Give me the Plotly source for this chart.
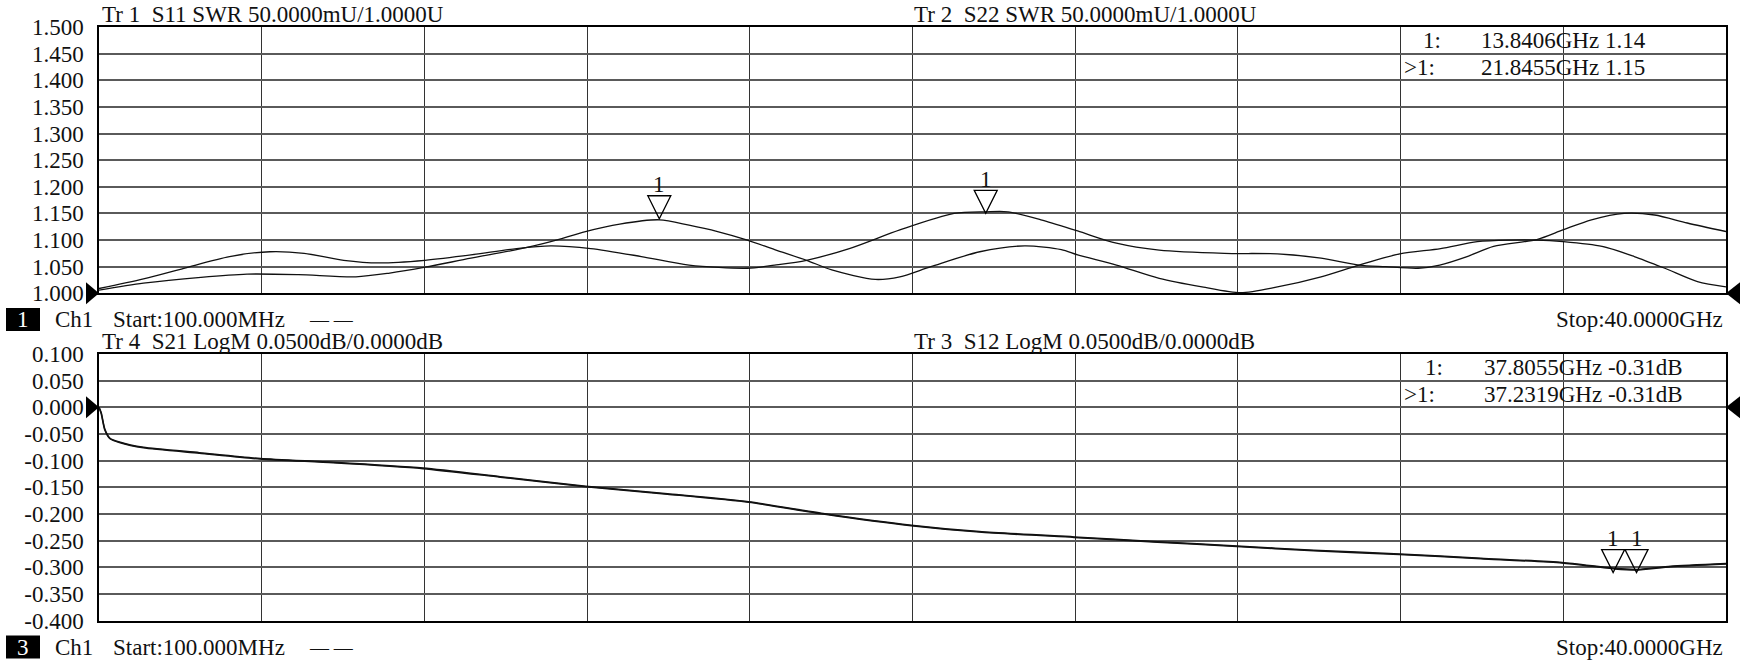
import plotly.graph_objects as go

# ---------------- data ----------------
freq_s11 = [0.1, 1.19, 2.6, 3.73, 4.99, 6.4, 7.23, 8.1, 9.22, 10.34, 11.18, 12.03, 12.87, 13.84,
            14.57, 15.27, 16.0, 16.67, 17.45, 18.07, 19.14, 19.74, 20.5, 21.7, 22.8, 23.7, 24.1,
            25.05, 26.1, 27.15, 28.1, 29.0, 30.07, 31.0, 32.0, 33.0, 33.9, 34.7, 35.36, 36.0,
            36.96, 37.75, 38.5, 39.3, 40.0]
swr_s11 = [1.006, 1.019, 1.030, 1.036, 1.035, 1.031, 1.038, 1.049, 1.066, 1.082, 1.097, 1.116, 1.130, 1.138,
           1.128, 1.116, 1.100, 1.082, 1.062, 1.044, 1.026, 1.031, 1.050, 1.078, 1.089, 1.082, 1.072,
           1.053, 1.028, 1.012, 1.001, 1.012, 1.031, 1.053, 1.074, 1.084, 1.097, 1.100, 1.100, 1.097,
           1.088, 1.069, 1.047, 1.022, 1.012]

freq_s22 = [0.1, 1.19, 2.18, 3.3, 4.29, 5.13, 6.1, 6.97, 8.09, 9.22, 10.34, 11.18, 12.16, 13.4, 14.57,
            16.0, 16.67, 17.45, 18.5, 19.74, 21.07, 21.85, 22.39, 23.2, 24.1, 25.05, 26.1, 27.7, 29.0,
            30.07, 31.0, 31.65, 32.45, 32.98, 33.65, 34.3, 35.36, 36.0, 36.7, 37.5, 38.25, 39.05, 40.0]
swr_s22 = [1.009, 1.027, 1.047, 1.069, 1.078, 1.075, 1.062, 1.057, 1.062, 1.072, 1.084, 1.089, 1.084, 1.069, 1.053,
           1.047, 1.053, 1.062, 1.084, 1.119, 1.150, 1.153, 1.153, 1.138, 1.117, 1.094, 1.081, 1.075, 1.074,
           1.066, 1.053, 1.050, 1.047, 1.053, 1.069, 1.088, 1.101, 1.119, 1.138, 1.150, 1.147, 1.132, 1.116]

freq_logm = [0.1, 0.155, 0.24, 0.37, 0.6, 1.19, 2.56, 4.06, 5.84, 8.05, 9.94, 12.04, 14.04, 16.03,
             17.86, 20.02, 21.69, 24.01, 26.06, 28.0, 29.89, 31.99, 33.99, 35.98, 37.27, 37.8, 38.64, 40.0]
logm_s21 = [0.0, -0.010, -0.040, -0.058, -0.065, -0.075, -0.085, -0.096, -0.103, -0.114, -0.130, -0.148,
            -0.162, -0.177, -0.199, -0.221, -0.233, -0.243, -0.252, -0.260, -0.268, -0.275, -0.283,
            -0.291, -0.302, -0.304, -0.298, -0.293]
logm_s12 = [0.0, -0.012, -0.042, -0.059, -0.066, -0.076, -0.086, -0.097, -0.104, -0.115, -0.131, -0.149,
            -0.163, -0.178, -0.200, -0.222, -0.234, -0.244, -0.253, -0.261, -0.269, -0.276, -0.284,
            -0.292, -0.303, -0.305, -0.299, -0.294]

swr_ticks = [1.000, 1.050, 1.100, 1.150, 1.200, 1.250, 1.300, 1.350, 1.400, 1.450, 1.500]
swr_tick_text = ["1.000", "1.050", "1.100", "1.150", "1.200", "1.250", "1.300", "1.350", "1.400", "1.450", "1.500"]
logm_ticks = [-0.400, -0.350, -0.300, -0.250, -0.200, -0.150, -0.100, -0.050, 0.000, 0.050, 0.100]
logm_tick_text = ["-0.400", "-0.350", "-0.300", "-0.250", "-0.200", "-0.150", "-0.100", "-0.050", "0.000", "0.050", "0.100"]

start_ghz, stop_ghz = 0.1, 40.0
swr_range = [1.0, 1.5]
logm_range = [-0.4, 0.1]
swr_ref, logm_ref = 1.0, 0.0

# markers: (freq GHz, value)
swr_markers = [(13.8406, 1.14), (21.8455, 1.15)]
logm_markers = [(37.8055, -0.31), (37.2319, -0.31)]

# ---------------- layout geometry (pixels) ----------------
W, H = 1746, 665
L, R = 99, 1726
T1, B1 = 27, 293.3
T2, B2 = 354, 620.6
FONT = "Liberation Serif"
FS = 23


def fx(p):
    return p / W


def fy(p):
    return 1 - p / H


fig = go.Figure()
for xs, ys in [(freq_s11, swr_s11), (freq_s22, swr_s22)]:
    fig.add_trace(go.Scatter(x=xs, y=ys, mode="lines",
                             line=dict(color="#111111", width=1.3, shape="spline", smoothing=0.8),
                             xaxis="x", yaxis="y", showlegend=False, hoverinfo="skip"))
for xs, ys in [(freq_logm, logm_s21), (freq_logm, logm_s12)]:
    fig.add_trace(go.Scatter(x=xs, y=ys, mode="lines",
                             line=dict(color="#111111", width=1.5, shape="spline", smoothing=0.6),
                             xaxis="x2", yaxis="y2", showlegend=False, hoverinfo="skip"))

xcommon = dict(range=[start_ghz, stop_ghz], tick0=start_ghz, dtick=(stop_ghz - start_ghz) / 10,
               showticklabels=False, showgrid=True, gridcolor="#333333", gridwidth=1, zeroline=False,
               showline=True, linecolor="black", linewidth=1.5, mirror=True, ticks="",
               domain=[fx(L), fx(R)], automargin=False)
ycommon = dict(ticks="outside", ticklen=9, tickcolor="rgba(0,0,0,0)",
               tickfont=dict(family=FONT, size=FS, color="#111111"),
               showgrid=True, gridcolor="#5a5a5a", gridwidth=1.5, zeroline=False,
               showline=True, linecolor="black", linewidth=1.5, mirror=True, automargin=False)

fig.update_layout(
    template="none",
    width=W, height=H, autosize=False,
    margin=dict(l=0, r=0, t=0, b=0, pad=0),
    paper_bgcolor="white", plot_bgcolor="white",
    xaxis=dict(xcommon, anchor="y"),
    yaxis=dict(ycommon, anchor="x", range=swr_range, tickvals=swr_ticks, ticktext=swr_tick_text,
               domain=[fy(B1), fy(T1)]),
    xaxis2=dict(xcommon, anchor="y2"),
    yaxis2=dict(ycommon, anchor="x2", range=logm_range, tickvals=logm_ticks, ticktext=logm_tick_text,
                domain=[fy(B2), fy(T2)]),
)

ann = []
shapes = []


def text(x, y, s, anchor="left", color="#111111", size=FS):
    ann.append(dict(x=fx(x), y=fy(y), xref="paper", yref="paper", text=s, showarrow=False,
                    xanchor=anchor, yanchor="middle", font=dict(family=FONT, size=size, color=color)))


# headers
text(100, 15, "Tr 1  S11 SWR 50.0000mU/1.0000U")
text(912, 15, "Tr 2  S22 SWR 50.0000mU/1.0000U")
text(100, 342, "Tr 4  S21 LogM 0.0500dB/0.0000dB")
text(912, 342, "Tr 3  S12 LogM 0.0500dB/0.0000dB")

# marker tables
text(1421, 41, "1:")
text(1479, 41, "13.8406GHz 1.14")
text(1402, 67, ">1:")
text(1479, 67, "21.8455GHz 1.15")
text(1423, 367, "1:")
text(1482, 367, "37.8055GHz -0.31dB")
text(1402, 394, ">1:")
text(1482, 394, "37.2319GHz -0.31dB")

# channel footers
for yc, num in [(319.5, "1"), (647, "3")]:
    shapes.append(dict(type="rect", xref="paper", yref="paper", x0=fx(6), x1=fx(40),
                       y0=fy(yc - 11.5), y1=fy(yc + 11.5), fillcolor="black", line=dict(width=0)))
    text(23, yc, num, anchor="center", color="white")
    text(53, yc, "Ch1")
    text(111, yc, "Start:100.000MHz")
    text(307, yc, "— —", size=19)
    text(1725, yc, "Stop:40.0000GHz", anchor="right")

# marker triangles + labels
for (mf, mv), xa, ya in [(m, "x", "y") for m in swr_markers] + [(m, "x2", "y2") for m in logm_markers]:
    shapes.append(dict(type="path", xref=xa, yref=ya, xsizemode="pixel", ysizemode="pixel",
                       xanchor=mf, yanchor=mv, path="M -11.5 23 L 11.5 23 L 0 0 Z",
                       line=dict(color="black", width=1.3), fillcolor="rgba(0,0,0,0)"))
    ann.append(dict(x=mf, y=mv, xref=xa, yref=ya, text="1", showarrow=False, yshift=34,
                    xanchor="center", yanchor="middle", font=dict(family=FONT, size=FS, color="#111111")))


# reference level triangles (paper coords mapped from axis scale)
def val_to_py(v, rng, top, bot):
    return bot - (v - rng[0]) / (rng[1] - rng[0]) * (bot - top)


for v, rng, top, bot in [(swr_ref, swr_range, T1, B1), (logm_ref, logm_range, T2, B2)]:
    yp = val_to_py(v, rng, top, bot)
    for xp, path in [(L, "M -13 11 L 0 0 L -13 -11 Z"), (R, "M 14 11 L 0 0 L 14 -11 Z")]:
        shapes.append(dict(type="path", xref="paper", yref="paper", xsizemode="pixel", ysizemode="pixel",
                           xanchor=fx(xp), yanchor=fy(yp), path=path, fillcolor="black", line=dict(width=0)))

fig.update_layout(annotations=ann, shapes=shapes)

fig.write_html("out.html", config={"displayModeBar": False},
               post_script="document.body.style.margin='0';document.body.style.overflow='hidden';")
